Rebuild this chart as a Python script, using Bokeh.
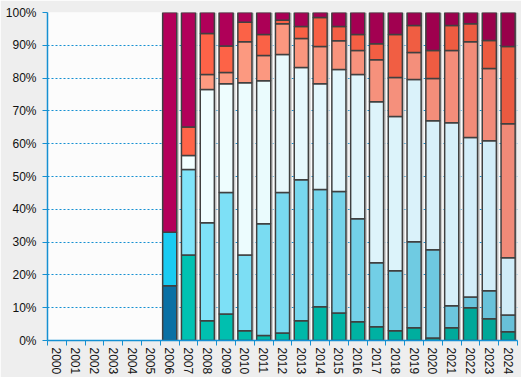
from bokeh.plotting import figure
from bokeh.models import ColumnDataSource, FixedTicker, Range1d
from bokeh.embed import file_html
from bokeh.resources import INLINE

years = [str(y) for y in range(2000, 2025)]
# shares (%) per segment, bottom to top
teal = [0, 0, 0, 0, 0, 0, 16.7, 26.1, 6.0, 8.1, 3.0, 1.5, 2.3, 6.0, 10.3, 8.4, 5.7, 4.2, 3.0, 3.9, 0.8, 3.9, 10.0, 6.6, 2.7]
light_blue = [0, 0, 0, 0, 0, 0, 16.3, 26.0, 29.9, 37.0, 23.1, 34.1, 42.8, 43.0, 35.7, 37.0, 31.4, 19.5, 18.3, 26.2, 26.9, 6.7, 3.3, 8.6, 5.1]
pale = [0, 0, 0, 0, 0, 0, 0, 4.3, 40.6, 33.2, 52.5, 43.6, 42.1, 34.2, 32.3, 37.2, 44.0, 49.1, 47.0, 49.5, 39.3, 55.8, 48.6, 45.7, 17.4]
salmon = [0, 0, 0, 0, 0, 0, 0, 0, 4.6, 3.4, 12.5, 7.7, 9.4, 8.9, 11.3, 8.8, 7.3, 12.8, 11.9, 8.2, 12.9, 22.0, 29.2, 22.0, 40.9]
orange = [0, 0, 0, 0, 0, 0, 0, 8.7, 12.5, 8.1, 5.9, 6.4, 1.0, 3.6, 8.9, 4.3, 4.9, 4.9, 13.1, 8.2, 8.5, 7.6, 5.5, 8.6, 23.5]
magenta = [0, 0, 0, 0, 0, 0, 67.0, 34.9, 6.4, 10.2, 3.0, 6.7, 2.4, 4.3, 1.5, 4.3, 6.7, 9.5, 6.7, 7.4, 11.6, 4.0, 3.4, 8.5, 10.4]
y_ticks = [0, 10, 20, 30, 40, 50, 60, 70, 80, 90, 100]

series = [teal, light_blue, pale, salmon, orange, magenta]
# colour at start (2007) and end (2024) of each series
c_start = ["#00c2b2", "#80e4fa", "#f2ffff", "#ff9c82", "#ff6448", "#b2005a"]
c_end = ["#00a596", "#68c0d8", "#d0ecf8", "#f08a78", "#ea5a40", "#98004a"]
special_2006 = {0: "#0a70a4", 1: "#1acbf2", 5: "#b4005a"}


def hx(c):
    return [int(c[i:i + 2], 16) for i in (1, 3, 5)]


def mix(a, b, t):
    ra, rb = hx(a), hx(b)
    return "#%02x%02x%02x" % tuple(int(round(x + (y - x) * t)) for x, y in zip(ra, rb))


xs, bots, tops, cols = [], [], [], []
sx, stop = [], []
for i, yr in enumerate(years):
    acc = 0.0
    total = sum(s[i] for s in series)
    if total > 0:
        sx.append(i + 0.12)
        stop.append(100)
    for k, s in enumerate(series):
        v = s[i]
        if v <= 0:
            continue
        if yr == "2006" and k in special_2006:
            col = special_2006[k]
        else:
            t = max(0.0, (i - 7) / 17.0)
            col = mix(c_start[k], c_end[k], t)
        b = acc
        tp = acc + v
        if k == 5 or tp > 100:
            tp = 100 if total > 0 else tp
        xs.append(i)
        bots.append(b)
        tops.append(tp)
        cols.append(col)
        acc += v

src = ColumnDataSource(dict(x=xs, bottom=bots, top=tops, color=cols))
shadow = ColumnDataSource(dict(x=sx, top=stop))

p = figure(width=521, height=377, output_backend="svg", toolbar_location=None,
           x_range=Range1d(-0.5, 24.5), y_range=Range1d(0, 100))
p.min_border_left = 47
p.min_border_right = 4
p.min_border_top = 12
p.min_border_bottom = 37
p.border_fill_color = "#eeeeee"
p.background_fill_color = "#fcfcfc"
p.outline_line_color = None

p.vbar(x="x", top="top", bottom=0, width=0.75, source=shadow,
       fill_color="#c4c4c4", line_color=None, fill_alpha=0.9)
p.vbar(x="x", top="top", bottom="bottom", width=0.75, source=src,
       fill_color="color", line_color="#404040", line_width=1.5)

axis_blue = "#1590d2"
p.xaxis.ticker = FixedTicker(ticks=list(range(25)), minor_ticks=[i - 0.5 for i in range(26)])
p.xaxis.major_label_overrides = {i: y for i, y in enumerate(years)}
p.xaxis.major_label_orientation = "vertical"
p.xaxis.major_tick_out = 0
p.xaxis.major_tick_in = 0
p.xaxis.minor_tick_out = 5
p.xaxis.minor_tick_in = 0
p.xaxis.minor_tick_line_color = axis_blue
p.xaxis.axis_line_color = axis_blue
p.xaxis.axis_line_width = 1.5
p.xaxis.major_label_text_font = "Liberation Sans"
p.xaxis.major_label_text_font_size = "12px"
p.xaxis.major_label_text_color = "#111111"
p.xaxis.major_label_standoff = 2

p.yaxis.ticker = FixedTicker(ticks=y_ticks, minor_ticks=[])
p.yaxis.major_label_overrides = {t: f"{t}%" for t in y_ticks}
p.yaxis.major_tick_out = 5
p.yaxis.major_tick_in = 0
p.yaxis.major_tick_line_color = axis_blue
p.yaxis.axis_line_color = axis_blue
p.yaxis.axis_line_width = 1.5
p.yaxis.major_label_text_font = "Liberation Sans"
p.yaxis.major_label_text_font_size = "12px"
p.yaxis.major_label_text_color = "#111111"
p.yaxis.major_label_standoff = 6

p.xgrid.grid_line_color = None
p.ygrid.grid_line_color = axis_blue
p.ygrid.grid_line_dash = "2 2"
p.ygrid.grid_line_width = 1

open("out.html", "w").write(file_html(p, INLINE))
